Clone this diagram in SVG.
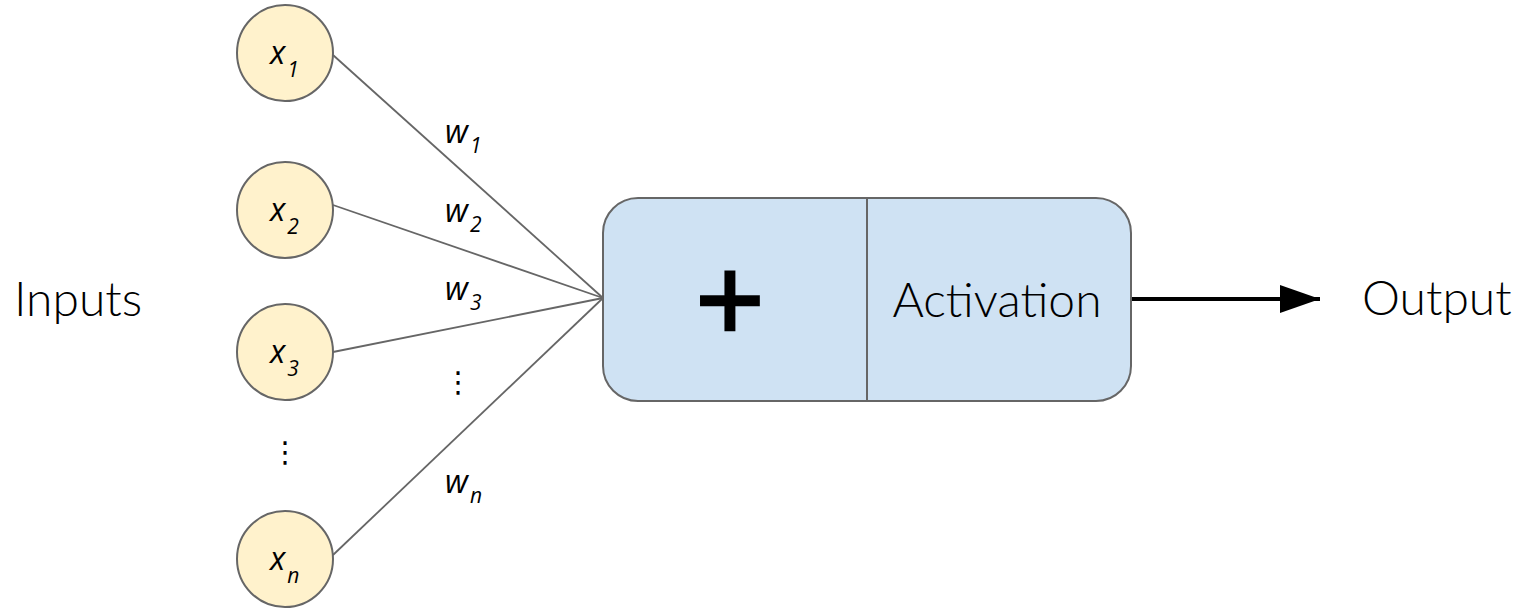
<svg xmlns="http://www.w3.org/2000/svg" width="1522" height="609" viewBox="0 0 1522 609">
  <defs>
    <style>
      .input circle { fill: #fff2cc; stroke: #666666; stroke-width: 2; }
      .math { font-family: "Open Sans", "Noto Sans", sans-serif; font-style: italic; fill: #000; }
      .sym { font-size: 32px; }
      .sub { font-size: 21px; }
      .label { font-family: Lato, "Open Sans", sans-serif; font-weight: 300; font-size: 48px; fill: #000; }
      .edge { stroke: #666666; stroke-width: 1.8; fill: none; }
      .dots { font-family: "DejaVu Sans", sans-serif; font-size: 29px; fill: #000; text-anchor: middle; }
    </style>
    <marker id="arrow" viewBox="0 0 40 28" refX="40" refY="14" markerWidth="40" markerHeight="28" markerUnits="userSpaceOnUse" orient="auto">
      <path d="M0,0 L40,14 L0,28 Z" fill="#000"/>
    </marker>
  </defs>

  <rect width="1522" height="609" fill="#ffffff"/>

  <!-- weighted connections into the summation unit -->
  <g id="connectors">
    <line class="edge" x1="333" y1="55" x2="603" y2="298"/>
    <line class="edge" x1="333" y1="205" x2="603" y2="298"/>
    <line class="edge" x1="333" y1="352" x2="603" y2="298"/>
    <line class="edge" x1="333" y1="555" x2="603" y2="298"/>
    <line x1="1131" y1="299" x2="1320" y2="299" stroke="#000" stroke-width="4" marker-end="url(#arrow)"/>
  </g>

  <!-- weight labels -->
  <g id="weights">
    <text class="math sym" x="445" y="143">w<tspan class="sub" dx="2" dy="10">1</tspan></text>
    <text class="math sym" x="445" y="222">w<tspan class="sub" dx="2" dy="10">2</tspan></text>
    <text class="math sym" x="445" y="300">w<tspan class="sub" dx="2" dy="10">3</tspan></text>
    <text class="dots" x="458" y="392">⋮</text>
    <text class="math sym" x="445" y="493">w<tspan class="sub" dx="2" dy="10">n</tspan></text>
  </g>

  <text id="inputs-label" class="label" x="14" y="316">Inputs</text>

  <g id="x1" class="input">
    <circle cx="285" cy="53" r="48"/>
    <text class="math sym" x="270" y="64">x<tspan class="sub" dx="2" dy="13">1</tspan></text>
  </g>
  <g id="x2" class="input">
    <circle cx="285" cy="210" r="48"/>
    <text class="math sym" x="270" y="221">x<tspan class="sub" dx="2" dy="13">2</tspan></text>
  </g>
  <g id="x3" class="input">
    <circle cx="285" cy="352" r="48"/>
    <text class="math sym" x="270" y="363">x<tspan class="sub" dx="2" dy="13">3</tspan></text>
  </g>
  <text id="input-dots" class="dots" x="285" y="462">⋮</text>
  <g id="xn" class="input">
    <circle cx="285" cy="559" r="48"/>
    <text class="math sym" x="270" y="570">x<tspan class="sub" dx="2" dy="13">n</tspan></text>
  </g>

  <!-- neuron: summation followed by activation -->
  <g id="neuron">
    <rect x="603" y="198" width="528" height="203" rx="35" ry="35" fill="#cfe2f3" stroke="#666666" stroke-width="2"/>
    <line x1="867" y1="198" x2="867" y2="401" stroke="#666666" stroke-width="2"/>
    <text x="730" y="340" font-family="Liberation Sans, Arial, sans-serif" font-size="118" text-anchor="middle" fill="#000" stroke="#000" stroke-width="2.5">+</text>
    <text class="label" x="997" y="317" text-anchor="middle">Activation</text>
  </g>

  <text id="output-label" class="label" x="1362" y="315">Output</text>
</svg>
